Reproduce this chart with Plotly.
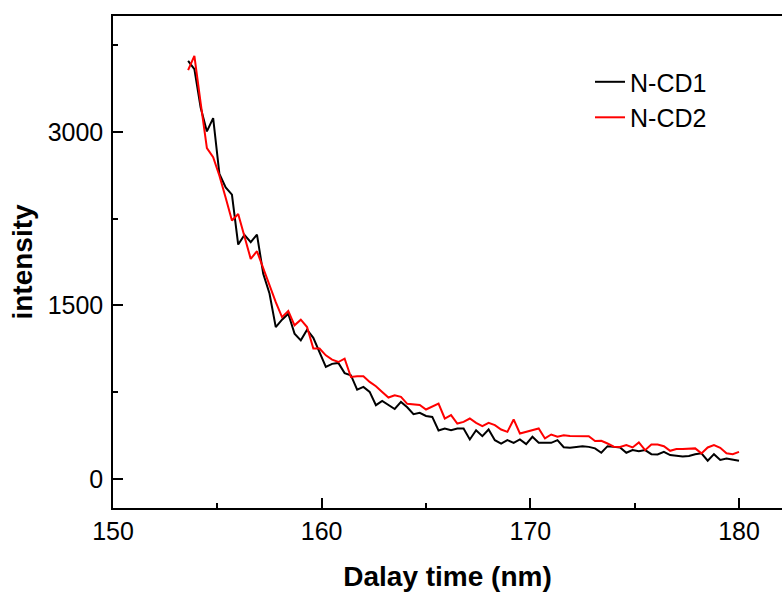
import plotly.graph_objects as go

# Delay time axis (nm), sampled every 0.3
delay = [153.6, 153.9, 154.2, 154.5, 154.8, 155.1, 155.4, 155.7, 156.0, 156.3,
         156.6, 156.9, 157.2, 157.5, 157.8, 158.1, 158.4, 158.7, 159.0, 159.3,
         159.6, 159.9, 160.2, 160.5, 160.8, 161.1, 161.4, 161.7, 162.0, 162.3,
         162.6, 162.9, 163.2, 163.5, 163.8, 164.1, 164.4, 164.7, 165.0, 165.3,
         165.6, 165.9, 166.2, 166.5, 166.8, 167.1, 167.4, 167.7, 168.0, 168.3,
         168.6, 168.9, 169.2, 169.5, 169.8, 170.1, 170.4, 170.7, 171.0, 171.3,
         171.6, 171.9, 172.2, 172.5, 172.8, 173.1, 173.4, 173.7, 174.0, 174.3,
         174.6, 174.9, 175.2, 175.5, 175.8, 176.1, 176.4, 176.7, 177.0, 177.3,
         177.6, 177.9, 178.2, 178.5, 178.8, 179.1, 179.4, 179.7, 180.0]

ncd1 = [3612, 3541, 3209, 3003, 3118, 2635, 2520, 2457, 2026, 2109,
        2046, 2112, 1773, 1603, 1313, 1377, 1428, 1256, 1198, 1290,
        1220, 1100, 968, 995, 1003, 915, 897, 773, 796, 753,
        638, 675, 640, 605, 666, 620, 560, 572, 545, 537,
        420, 437, 422, 437, 437, 342, 422, 371, 428, 336,
        307, 336, 313, 342, 302, 365, 313, 313, 313, 336,
        275, 270, 275, 284, 278, 265, 227, 284, 278, 272,
        227, 250, 240, 250, 215, 213, 235, 207, 201, 195,
        200, 215, 222, 158, 215, 165, 178, 170, 158]

ncd2 = [3532, 3655, 3250, 2859, 2780, 2620, 2430, 2233, 2290, 2100,
        1902, 1968, 1820, 1690, 1528, 1399, 1451, 1328, 1377, 1313,
        1127, 1127, 1069, 1032, 1011, 1040, 882, 888, 888, 839,
        802, 753, 704, 724, 710, 650, 644, 640, 601, 625,
        652, 523, 552, 480, 494, 523, 485, 457, 485, 466,
        428, 408, 515, 394, 408, 422, 437, 351, 385, 365,
        379, 371, 371, 375, 370, 328, 330, 307, 280, 278,
        293, 273, 316, 250, 299, 299, 284, 244, 259, 259,
        262, 265, 222, 273, 293, 270, 222, 215, 235]

fig = go.Figure()

fig.add_trace(go.Scatter(x=delay, y=ncd1, mode='lines', name='N-CD1',
                         line=dict(color='#000000', width=2)))
fig.add_trace(go.Scatter(x=delay, y=ncd2, mode='lines', name='N-CD2',
                         line=dict(color='#ff0000', width=2)))

axis_font = dict(family='Liberation Sans, Arial', size=25, color='#000000')
title_font = dict(family='Liberation Sans, Arial', size=28, color='#000000')

fig.update_layout(
    width=782,
    height=592,
    margin=dict(l=113, r=0, t=16, b=84, autoexpand=False),
    plot_bgcolor='white',
    paper_bgcolor='white',
    showlegend=True,
    legend=dict(
        x=0.713, y=0.9125, xanchor='left', yanchor='top',
        font=dict(family='Liberation Sans, Arial', size=25, color='#000000'),
        bgcolor='rgba(0,0,0,0)',
        tracegroupgap=0,
    ),
    xaxis=dict(
        range=[150, 182.06],
        automargin=False,
        tickvals=[150, 160, 170, 180],
        ticks='inside', ticklen=10, tickwidth=1.5, tickcolor='#000000',
        minor=dict(tickvals=[155, 165, 175], ticks='inside', ticklen=5,
                   tickwidth=1.5, tickcolor='#000000'),
        showline=True, linecolor='#000000', linewidth=1.5, mirror=True,
        showgrid=False, zeroline=False,
        tickfont=axis_font,
        title=dict(text='<b>Dalay time (nm)</b>', font=title_font, standoff=24),
    ),
    yaxis=dict(
        range=[-250, 4000],
        automargin=False,
        tickvals=[0, 1500, 3000],
        ticks='inside', ticklen=10, tickwidth=1.5, tickcolor='#000000',
        minor=dict(tickvals=[750, 2250, 3750], ticks='inside', ticklen=5,
                   tickwidth=1.5, tickcolor='#000000'),
        showline=True, linecolor='#000000', linewidth=1.5, mirror=True,
        showgrid=False, zeroline=False,
        tickfont=axis_font,
        ticklabelstandoff=3,
        title=dict(text='<b>intensity</b>', font=title_font, standoff=7),
    ),
)

# drop the page's default body margin so the figure fills the window
fig.write_html("out.html",
               config={'displayModeBar': False},
               post_script="document.body.style.margin='0';"
                           "document.body.style.overflow='hidden';")
